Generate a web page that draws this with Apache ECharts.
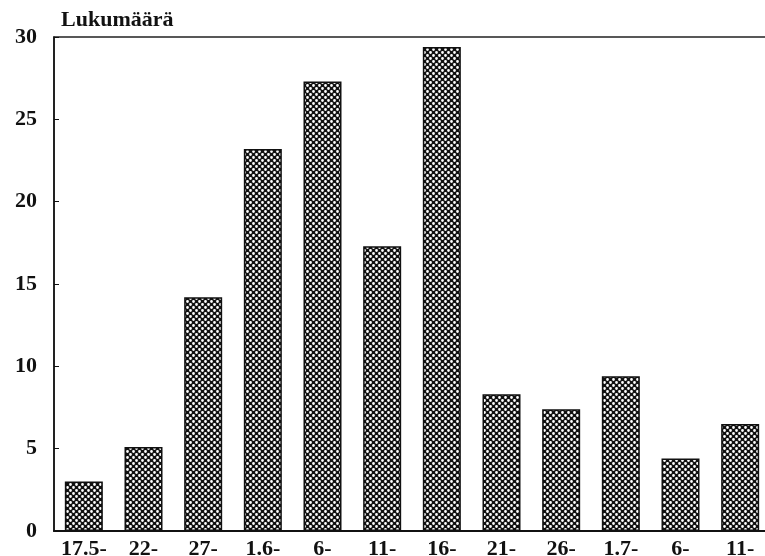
<!DOCTYPE html>
<html>
<head>
    <meta charset="utf-8">
    <script src="https://cdn.jsdelivr.net/npm/echarts@6/dist/echarts.min.js"></script>
    <style>
        html, body { margin: 0; padding: 0; background: #fff; }
    </style>
</head>
<body>
<div id="chart" style="width:765px;height:556px"></div>
<script>
    // categories (start dates of periods) and counts
    var categories = ['17.5-', '22-', '27-', '1.6-', '6-', '11-', '16-', '21-', '26-', '1.7-', '6-', '11-'];
    var counts = [3, 5.1, 14.2, 23.2, 27.3, 17.3, 29.4, 8.3, 7.4, 9.4, 4.4, 6.5];
    var yTicks = [0, 5, 10, 15, 20, 25, 30];

    // dotted raster fill, black with white holes
    function makePattern() {
        var c = document.createElement('canvas');
        c.width = 6;
        c.height = 6;
        var ctx = c.getContext('2d');
        ctx.fillStyle = '#111';
        ctx.fillRect(0, 0, 6, 6);
        ctx.fillStyle = '#fff';
        ctx.beginPath();
        ctx.arc(1.5, 1.5, 1.4, 0, Math.PI * 2);
        ctx.arc(4.5, 4.5, 1.4, 0, Math.PI * 2);
        ctx.fill();
        return c;
    }

    var font = '"Liberation Serif", "DejaVu Serif", serif';
    var myChart = echarts.init(document.getElementById('chart'));

    var option = {
        backgroundColor: '#fff',
        animation: false,
        title: {
            text: 'Lukumäärä',
            left: 56,
            top: 4,
            textStyle: { fontFamily: font, fontWeight: 'bold', fontSize: 22, color: '#111' }
        },
        grid: {
            left: 54,
            width: 716,
            top: 37,
            bottom: 25,
            outerBoundsMode: 'none',
            show: true,
            borderColor: '#222',
            borderWidth: 1.5,
            backgroundColor: 'transparent'
        },
        xAxis: {
            type: 'category',
            data: categories,
            axisLine: { lineStyle: { color: '#111', width: 2 } },
            axisTick: { show: false },
            axisLabel: {
                interval: 0,
                margin: 7,
                fontFamily: font, fontWeight: 'bold', fontSize: 22, color: '#111'
            }
        },
        yAxis: {
            type: 'value',
            min: 0,
            max: 30,
            interval: 5,
            axisLine: { show: true, lineStyle: { color: '#111', width: 1.5 } },
            axisTick: { show: true, inside: true, length: 5, lineStyle: { color: '#111' } },
            splitLine: { show: false },
            axisLabel: {
                margin: 17,
                padding: [0, 0, 8, 0],
                fontFamily: font, fontWeight: 'bold', fontSize: 22, color: '#111',
                formatter: function (v) { return yTicks.indexOf(v) >= 0 ? String(v) : ''; }
            }
        },
        series: [{
            type: 'bar',
            data: counts,
            barWidth: 38,
            itemStyle: {
                color: { image: makePattern(), repeat: 'repeat' },
                borderColor: '#111',
                borderWidth: 1.5
            }
        }]
    };
    myChart.setOption(option);
</script>
</body>
</html>
